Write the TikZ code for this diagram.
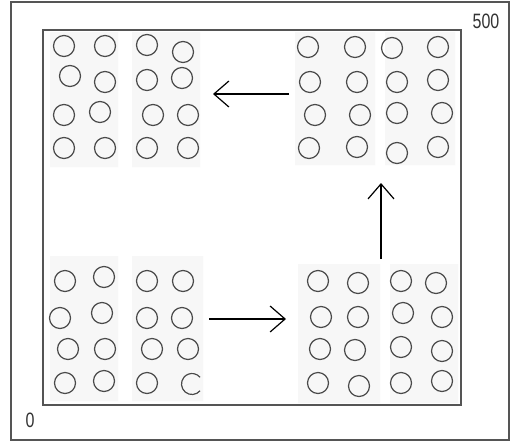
\documentclass[tikz,border=0pt]{standalone}
\usepackage{fontspec}
\setmainfont{Liberation Sans}
\usetikzlibrary{arrows.meta}
\definecolor{ballc}{HTML}{4A4A4A}
\definecolor{framec}{HTML}{555555}
\tikzset{
  ball/.style={circle, draw=ballc, line width=1.2pt, minimum size=21pt, inner sep=0pt},
  frameline/.style={draw=framec, line width=1.5pt},
  stripe/.style={fill=black!3, draw=none},
  flow/.style={line width=1.2pt, -{Straight Barb[length=15pt,width=26pt,line width=1.2pt]}},
  lbl/.style={font=\fontsize{16}{16}\selectfont, text=black!80, inner sep=0pt}
}
\begin{document}
\begin{tikzpicture}[x=1pt,y=-1pt]
\useasboundingbox (0,0) rectangle (510,442);
\fill[white] (0,0) rectangle (510,442);
% stripes
\path[stripe] (50,32) rectangle (118,167) (132,32) rectangle (200,167);
\path[stripe] (295,32) rectangle (375,165) (385,32) rectangle (455,165);
\path[stripe] (50,256) rectangle (118,401) (132,256) rectangle (203,401);
\path[stripe] (298,264) rectangle (380,403) (390,264) rectangle (458,403);
% frames
\draw[frameline] (11,2) rectangle (509,440);
\draw[frameline] (43,30) rectangle (461,405);
% labels
\node[lbl] (l500) at (486,21) {\scalebox{1}[1.3]{500}};
\node[lbl] (l0) at (30,420) {\scalebox{1}[1.3]{0}};
% top-left group
\node[ball] (a11) at (64,46) {};
\node[ball] (a12) at (105,46) {};
\node[ball] (a13) at (147,45) {};
\node[ball] (a14) at (183,52) {};
\node[ball] (a21) at (70,76) {};
\node[ball] (a22) at (105,82) {};
\node[ball] (a23) at (147,80) {};
\node[ball] (a24) at (182,78) {};
\node[ball] (a31) at (64,115) {};
\node[ball] (a32) at (100,112) {};
\node[ball] (a33) at (153,115) {};
\node[ball] (a34) at (188,115) {};
\node[ball] (a41) at (64,148) {};
\node[ball] (a42) at (105,148) {};
\node[ball] (a43) at (147,148) {};
\node[ball] (a44) at (188,148) {};
% top-right group
\node[ball] (b11) at (308,47) {};
\node[ball] (b12) at (355,47) {};
\node[ball] (b13) at (392,48) {};
\node[ball] (b14) at (438,47) {};
\node[ball] (b21) at (310,82) {};
\node[ball] (b22) at (357,82) {};
\node[ball] (b23) at (397,82) {};
\node[ball] (b24) at (438,80) {};
\node[ball] (b31) at (315,115) {};
\node[ball] (b32) at (360,115) {};
\node[ball] (b33) at (397,113) {};
\node[ball] (b34) at (442,113) {};
\node[ball] (b41) at (309,148) {};
\node[ball] (b42) at (357,147) {};
\node[ball] (b43) at (397,153) {};
\node[ball] (b44) at (438,147) {};
% bottom-left group
\node[ball] (c11) at (65,281) {};
\node[ball] (c12) at (104,277) {};
\node[ball] (c13) at (147,281) {};
\node[ball] (c14) at (183,281) {};
\node[ball] (c21) at (60,318) {};
\node[ball] (c22) at (102,313) {};
\node[ball] (c23) at (147,318) {};
\node[ball] (c24) at (182,318) {};
\node[ball] (c31) at (68,349) {};
\node[ball] (c32) at (105,349) {};
\node[ball] (c33) at (152,349) {};
\node[ball] (c34) at (188,349) {};
\node[ball] (c41) at (65,383) {};
\node[ball] (c42) at (104,381) {};
\node[ball] (c43) at (147,383) {};
\coordinate (c44) at (192,384);
\draw[draw=ballc, line width=1.2pt] ([shift={(40:10.5)}]c44) arc[start angle=40, end angle=320, radius=10.5];
% bottom-right group
\node[ball] (d11) at (318,281) {};
\node[ball] (d12) at (358,283) {};
\node[ball] (d13) at (401,281) {};
\node[ball] (d14) at (436,283) {};
\node[ball] (d21) at (321,317) {};
\node[ball] (d22) at (358,317) {};
\node[ball] (d23) at (403,313) {};
\node[ball] (d24) at (442,317) {};
\node[ball] (d31) at (320,349) {};
\node[ball] (d32) at (355,350) {};
\node[ball] (d33) at (401,347) {};
\node[ball] (d34) at (442,351) {};
\node[ball] (d41) at (318,383) {};
\node[ball] (d42) at (359,386) {};
\node[ball] (d43) at (401,383) {};
\node[ball] (d44) at (442,381) {};
% arrows
\coordinate (p1s) at (209,319);
\coordinate (p1e) at (286,319);
\coordinate (p2s) at (381,259);
\coordinate (p2e) at (381,183);
\coordinate (p3s) at (289,94);
\coordinate (p3e) at (213,94);
\draw[flow] (p1s) -- (p1e);
\draw[flow] (p2s) -- (p2e);
\draw[flow] (p3s) -- (p3e);
\end{tikzpicture}
\end{document}
